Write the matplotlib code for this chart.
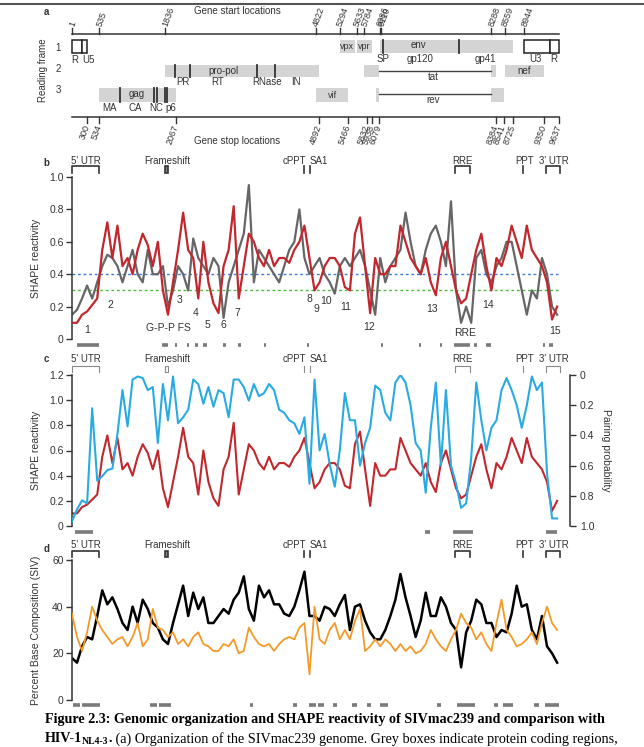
import matplotlib
matplotlib.use('Agg')
import matplotlib.pyplot as plt
from matplotlib.transforms import blended_transform_factory, Affine2D
from matplotlib.patches import Rectangle
from matplotlib.lines import Line2D

plt.rcParams['font.family'] = ['Liberation Sans', 'DejaVu Sans']

# ---------------- data ----------------
GENOME_LEN = 9637
positions = list(range(0, 9700, 100))  # sampling grid (nt)

shape_siv = [0.10, 0.10, 0.15, 0.17, 0.21, 0.25, 0.55, 0.72, 0.50, 0.70,
             0.45, 0.50, 0.40, 0.55, 0.65, 0.58, 0.45, 0.60, 0.30, 0.15,
             0.35, 0.55, 0.78, 0.55, 0.50, 0.25, 0.60, 0.35, 0.22, 0.16,
             0.45, 0.55, 0.82, 0.25, 0.45, 0.65, 0.60, 0.50, 0.45, 0.55,
             0.45, 0.50, 0.50, 0.47, 0.55, 0.60, 0.70, 0.50, 0.30, 0.35,
             0.45, 0.50, 0.50, 0.45, 0.32, 0.30, 0.65, 0.75, 0.45, 0.16,
             0.50, 0.40, 0.40, 0.45, 0.45, 0.70, 0.60, 0.50, 0.45, 0.40,
             0.50, 0.35, 0.27, 0.50, 0.60, 0.45, 0.30, 0.22, 0.25, 0.40,
             0.55, 0.65, 0.45, 0.30, 0.50, 0.45, 0.55, 0.70, 0.60, 0.50,
             0.70, 0.55, 0.50, 0.45, 0.35, 0.12, 0.20]

shape_hiv = [0.15, 0.18, 0.25, 0.33, 0.25, 0.35, 0.45, 0.52, 0.50, 0.45,
             0.35, 0.45, 0.55, 0.40, 0.35, 0.55, 0.40, 0.40, 0.45, 0.20,
             0.30, 0.45, 0.40, 0.30, 0.62, 0.50, 0.45, 0.40, 0.50, 0.45,
             0.13, 0.35, 0.45, 0.55, 0.65, 0.95, 0.35, 0.55, 0.50, 0.45,
             0.40, 0.35, 0.45, 0.55, 0.60, 0.80, 0.50, 0.40, 0.45, 0.50,
             0.40, 0.35, 0.28, 0.45, 0.50, 0.45, 0.50, 0.55, 0.45, 0.30,
             0.15, 0.50, 0.35, 0.45, 0.50, 0.55, 0.78, 0.60, 0.45, 0.40,
             0.55, 0.65, 0.70, 0.60, 0.45, 0.85, 0.30, 0.10, 0.20, 0.10,
             0.50, 0.55, 0.40, 0.35, 0.45, 0.50, 0.60, 0.60, 0.45, 0.30,
             0.15, 0.30, 0.25, 0.50, 0.40, 0.20, 0.15]

pairing_prob = [0.97, 0.89, 0.83, 0.85, 0.22, 0.70, 0.67, 0.63, 0.62, 0.39,
                0.10, 0.34, 0.03, 0.01, 0.02, 0.10, 0.08, 0.45, 0.06, 0.30,
                0.01, 0.32, 0.28, 0.23, 0.03, 0.06, 0.19, 0.08, 0.21, 0.10,
                0.12, 0.28, 0.03, 0.03, 0.08, 0.17, 0.06, 0.14, 0.12, 0.06,
                0.10, 0.23, 0.25, 0.30, 0.32, 0.39, 0.28, 0.72, 0.03, 0.50,
                0.39, 0.59, 0.74, 0.50, 0.12, 0.30, 0.30, 0.60, 0.45, 0.35,
                0.07, 0.10, 0.25, 0.30, 0.05, 0.00, 0.05, 0.20, 0.45, 0.50,
                0.78, 0.35, 0.05, 0.60, 0.10, 0.60, 0.72, 0.88, 0.85, 0.55,
                0.05, 0.30, 0.50, 0.35, 0.30, 0.10, 0.02, 0.10, 0.20, 0.35,
                0.20, 0.01, 0.10, 0.05, 0.65, 0.95, 0.95]

pct_a = [18, 16, 23, 27, 26, 36, 47, 41, 44, 39,
         33, 30, 40, 33, 43, 39, 33, 31, 26, 24,
         33, 41, 49, 36, 46, 39, 44, 33, 33, 36,
         39, 37, 43, 46, 53, 39, 34, 49, 44, 47,
         41, 41, 37, 36, 40, 47, 55, 36, 36, 34,
         40, 39, 36, 41, 45, 30, 40, 41, 34, 29,
         26, 26, 30, 36, 43, 54, 44, 36, 27, 34,
         46, 36, 36, 44, 40, 33, 30, 14, 29, 34,
         43, 41, 33, 33, 27, 30, 29, 37, 49, 40,
         41, 30, 26, 36, 23, 20, 16]

pct_other = [37, 27, 21, 29, 40, 34, 30, 27, 24, 26,
             27, 23, 27, 33, 23, 26, 39, 31, 30, 27,
             29, 24, 26, 23, 27, 29, 24, 23, 21, 21,
             24, 23, 26, 20, 21, 31, 27, 24, 23, 24,
             21, 24, 26, 27, 26, 31, 33, 11, 40, 26,
             24, 30, 33, 26, 30, 26, 34, 39, 21, 23,
             26, 23, 26, 24, 21, 24, 21, 23, 20, 21,
             24, 30, 26, 23, 21, 26, 30, 37, 33, 31,
             26, 29, 24, 21, 33, 43, 30, 27, 23, 24,
             26, 29, 24, 33, 40, 33, 30]

gene_starts = [1, 535, 1836, 4822, 5294, 5633, 5784, 6086, 6110, 8288, 8559, 8944]
gene_stops = [300, 534, 2067, 4892, 5466, 5832, 5938, 6079, 8384, 8541, 8725, 9350, 9637]

low_b = [(92, 541), (1775, 1906), (2040, 2070), (2270, 2320), (2430, 2490),
         (2585, 2665), (2980, 3050), (3290, 3340), (3800, 3840), (4645, 4700),
         (6110, 6160), (6870, 6910), (7280, 7320), (7565, 7875), (7960, 8010),
         (8200, 8300), (9315, 9360), (9445, 9525)]
low_c = [(60, 422), (6985, 7085), (7545, 7940), (9380, 9590)]
low_d = [(25, 160), (190, 555), (1545, 1675), (1730, 1950), (3520, 3590),
         (4380, 4460), (4700, 4830), (4875, 4990), (5160, 5250), (5535, 5635),
         (5830, 5910), (6095, 6260), (7230, 7295), (7615, 7975), (8350, 8435),
         (8535, 8720), (9140, 9245), (9360, 9637)]

region_labels = ['1', '2', 'G-P-P FS', '3', '4', '5', '6', '7', '8', '9', '10', '11',
                 '12', '13', 'RRE', '14', '15']
region_pos = [310, 752, 1900, 2137, 2453, 2690, 2990, 3280, 4690, 4840, 5020, 5420,
              5880, 7120, 7775, 8230, 9560]
region_val = [0.055, 0.21, 0.07, 0.24, 0.16, 0.085, 0.085, 0.16, 0.25, 0.185, 0.235, 0.2,
              0.075, 0.185, 0.037, 0.21, 0.05]

# ---------------- figure ----------------
W, H = 644, 747
fig = plt.figure(figsize=(W / 100, H / 100), dpi=100)
X0, X1 = 72, 559
DARK = '#333333'


def axes_px(top, bottom):
    return [X0 / W, 1 - bottom / H, (X1 - X0) / W, (bottom - top) / H]


ax_b = fig.add_axes(axes_px(177, 339))
ax_c = fig.add_axes(axes_px(375, 526))
ax_d = fig.add_axes(axes_px(560, 700))
for ax in (ax_b, ax_c, ax_d):
    ax.set_xlim(1, GENOME_LEN)
ax_b.set_ylim(0, 1.0)
ax_c.set_ylim(0, 1.2)
ax_d.set_ylim(0, 60)

pxT = Affine2D().scale(1 / W, -1 / H).translate(0, 1) + fig.transFigure
T = blended_transform_factory(ax_b.transData, pxT)


def hl(x0, x1, y, color=DARK, lw=1.0, **kw):
    ax_b.add_line(Line2D([x0, x1], [y, y], transform=T, clip_on=False, color=color, lw=lw, **kw))


def vl(x, y0, y1, color=DARK, lw=1.0, **kw):
    ax_b.add_line(Line2D([x, x], [y0, y1], transform=T, clip_on=False, color=color, lw=lw, **kw))


def txt(x, y, s, size=7, color=DARK, **kw):
    kw.setdefault('ha', 'center')
    kw.setdefault('va', 'center')
    ax_b.text(x, y, s, transform=T, fontsize=size, color=color, clip_on=False, **kw)


def box(x0, x1, y0, y1, fc='#d4d4d4', ec='none', lw=0):
    ax_b.add_patch(Rectangle((x0, y0), x1 - x0, y1 - y0, transform=T, fc=fc, ec=ec,
                             lw=lw, clip_on=False))


# ---------- panel a ----------
fig.add_artist(Line2D([0, 1], [1 - 4 / H, 1 - 4 / H], transform=fig.transFigure, color='#555', lw=1.5))
txt(3265, 11, 'Gene start locations', size=7)
txt(3265, 141, 'Gene stop locations', size=7)
hl(1, GENOME_LEN, 34, lw=1.1)
for s in gene_starts:
    vl(s, 34, 28, lw=1.0)
    txt(s, 26, str(s), size=6.5, rotation=70, ha='left', va='center', rotation_mode='anchor')
hl(1, GENOME_LEN, 117, lw=1.1)
for s in gene_stops:
    vl(s, 117, 123, lw=1.0)
    txt(s, 125, str(s), size=6.5, rotation=70, ha='right', va='center', rotation_mode='anchor')

txt(-574, 70, 'Reading frame', size=7, rotation=90)
for lab, yy in (('1', 48), ('2', 69), ('3', 90)):
    txt(-277, yy, lab, size=7)

F1, F2, F3 = (40, 53), (65, 77), (88, 102)
# frame 1
box(1, 190, *F1, fc='white', ec='#222', lw=1.1)
box(190, 300, *F1, fc='white', ec='#222', lw=1.1)
txt(60, 60, 'R', size=7)
txt(330, 60, 'U5', size=7)
box(5294, 5610, *F1)
box(5633, 5938, *F1)
txt(5450, 46.5, 'vpx', size=6.5)
txt(5790, 46.5, 'vpr', size=6.5)
box(6086, 8725, *F1)
vl(6150, F1[0], F1[1], lw=1.3)
vl(7650, F1[0], F1[1], lw=1.3)
txt(6850, 45.5, 'env', size=7)
txt(6150, 59, 'SP', size=7)
txt(6890, 59, 'gp120', size=7)
txt(8190, 59, 'gp41', size=7)
box(8944, 9450, *F1, fc='white', ec='#222', lw=1.1)
box(9450, 9637, *F1, fc='white', ec='#222', lw=1.1)
txt(9170, 59, 'U3', size=7)
txt(9540, 59, 'R', size=7)
# frame 2
box(1836, 4892, *F2)
for xx in (2040, 2340, 3660, 4020):
    vl(xx, F2[0], F2[1], lw=1.3)
txt(2990, 70.5, 'pro-pol', size=7)
for lab, xx in (('PR', 2200), ('RT', 2890), ('RNase', 3860), ('IN', 4430)):
    txt(xx, 82, lab, size=7)
box(5784, 6079, *F2)
box(8288, 8384, *F2)
hl(6079, 8288, 71, lw=1.0, color='#444')
txt(7140, 77, 'tat', size=7)
box(8559, 9350, *F2)
txt(8950, 70.5, 'nef', size=7)
# frame 3
box(535, 2067, *F3)
for xx in (950, 1620, 1690, 1850, 1880):
    vl(xx, F3[0], F3[1], lw=1.3)
txt(1290, 94, 'gag', size=7)
for lab, xx in (('MA', 750), ('CA', 1250), ('NC', 1660), ('p6', 1960)):
    txt(xx, 108, lab, size=7)
box(4822, 5466, *F3)
txt(5150, 95, 'vif', size=6.5)
box(6010, 6079, *F3)
box(8288, 8541, *F3)
hl(6079, 8288, 94, lw=1.0, color='#444')
txt(7140, 100, 'rev', size=7)
txt(-510, 12, 'a', size=7, weight='bold')


# ---------- annotation strip above b, c, d ----------
def annotations(ylab, ytop, ybot, color, lw, fs_filled=True):
    def bracket(a, b):
        ax_b.add_line(Line2D([a, a, b, b], [ybot, ytop, ytop, ybot], transform=T,
                             clip_on=False, color=color, lw=lw))
    bracket(1, 535)
    bracket(7580, 7875)
    bracket(9380, 9660)
    if fs_filled:
        box(1845, 1900, ytop, ybot, fc='#888', ec=color, lw=lw)
    else:
        box(1845, 1900, ytop, ybot, fc='none', ec=color, lw=lw)
    for xx in (4600, 4720, 8930):
        vl(xx, ytop, ybot, color=color, lw=lw)
    for lab, xx in (("5' UTR", 268), ('Frameshift', 1893), ('cPPT', 4400), ('SA1', 4890),
                    ('RRE', 7735), ('PPT', 8960), ("3' UTR", 9530)):
        txt(xx, ylab, lab, size=7)


annotations(161, 166, 173, DARK, 1.2)
annotations(359, 366, 372, '#8a8a8a', 0.8, fs_filled=False)
annotations(545, 551, 557, DARK, 1.2)
txt(-510, 163, 'b', size=7, weight='bold')
txt(-510, 359, 'c', size=7, weight='bold')
txt(-510, 549, 'd', size=7, weight='bold')


def lowbars(bars, y):
    for a, b in bars:
        hl(a, b, y, color='#7a7a7a', lw=2.6, solid_capstyle='butt')


lowbars(low_b, 345)
lowbars(low_c, 532)
lowbars(low_d, 705)


# ---------- axes styling ----------
def style(ax, ticks, labels):
    for sp in ('top', 'right', 'bottom'):
        ax.spines[sp].set_visible(False)
    ax.spines['left'].set_color(DARK)
    ax.spines['left'].set_linewidth(1.1)
    ax.set_xticks([])
    ax.set_yticks(ticks)
    ax.set_yticklabels(labels)
    ax.tick_params(axis='y', direction='out', length=4, width=1.0, colors=DARK, labelsize=7.5, pad=2)
    ax.patch.set_alpha(0)


style(ax_b, [0, 0.2, 0.4, 0.6, 0.8, 1.0], ['0', '0.2', '0.4', '0.6', '0.8', '1.0'])
style(ax_c, [0, 0.2, 0.4, 0.6, 0.8, 1.0, 1.2], ['0', '0.2', '0.4', '0.6', '0.8', '1.0', '1.2'])
style(ax_d, [0, 20, 40, 60], ['0', '20', '40', '60'])
ax_b.set_ylabel('SHAPE reactivity', fontsize=7.5, color=DARK)
ax_c.set_ylabel('SHAPE reactivity', fontsize=7.5, color=DARK)
ax_d.set_ylabel('Percent Base Composition (SIV)', fontsize=7.5, color=DARK)
for ax in (ax_b, ax_c, ax_d):
    ax.yaxis.set_label_coords(-0.063, 0.5)

xs = positions

# panel b
ax_b.axhline(0.4, color='#3b7dd8', ls=(0, (2, 2)), lw=1.0, zorder=1)
ax_b.axhline(0.3, color='#4cbb3c', ls=(0, (2, 2)), lw=1.0, zorder=1)
ax_b.plot(xs, shape_hiv, color='#666666', lw=1.6, zorder=2)
ax_b.plot(xs, shape_siv, color='#c1272d', lw=1.6, zorder=3)
for lab, xx, yy in zip(region_labels, region_pos, region_val):
    ax_b.text(xx, yy, lab, fontsize=7.5, color=DARK, ha='center', va='center')

# panel c
ax_c.plot(xs, shape_siv, color='#c1272d', lw=1.5, zorder=2)
ax_c2 = ax_c.twinx()
ax_c2.set_position(axes_px(375, 526))
ax_c2.set_xlim(1, GENOME_LEN)
ax_c2.set_ylim(1.0, 0)
ax_c2.plot(xs, pairing_prob, color='#29abe2', lw=1.5, zorder=3)
for sp in ('top', 'left', 'bottom'):
    ax_c2.spines[sp].set_visible(False)
ax_c2.spines['right'].set_position(('outward', 8))
ax_c2.spines['right'].set_color(DARK)
ax_c2.spines['right'].set_linewidth(1.1)
ax_c2.set_yticks([0, 0.2, 0.4, 0.6, 0.8, 1.0])
ax_c2.set_yticklabels(['0', '0.2', '0.4', '0.6', '0.8', '1.0'])
ax_c2.tick_params(axis='y', direction='out', length=4, width=1.0, colors=DARK, labelsize=7.5, pad=3)
ax_c2.set_xticks([])
ax_c2.set_ylabel('Pairing probability', fontsize=7.5, color=DARK, rotation=270, labelpad=12)
ax_c2.patch.set_alpha(0)

# panel d
ax_d.plot(xs, pct_a, color='black', lw=1.8, zorder=2)
ax_d.plot(xs, pct_other, color='#f39a2b', lw=1.3, zorder=3)

# ---------- caption ----------
SERIF = ['Liberation Serif', 'DejaVu Serif']
CAP = 10.2
fig.text(45 / W, 1 - 720 / H, 'Figure 2.3: Genomic organization and SHAPE reactivity of SIVmac239 and comparison with',
         fontsize=CAP, weight='bold', family=SERIF, va='center', ha='left')
renderer = fig.canvas.get_renderer()
y2 = 1 - 739 / H
t = fig.text(45 / W, y2, 'HIV-1', fontsize=CAP, weight='bold', family=SERIF, va='center', ha='left')
x = t.get_window_extent(renderer).x1
t = fig.text(x / W, y2 - 3 / H, 'NL4-3', fontsize=7, weight='bold', family=SERIF, va='center', ha='left')
x = t.get_window_extent(renderer).x1
t = fig.text(x / W, y2, '.', fontsize=CAP, weight='bold', family=SERIF, va='center', ha='left')
x = t.get_window_extent(renderer).x1
fig.text(x / W, y2, ' (a) Organization of the SIVmac239 genome. Grey boxes indicate protein coding regions,',
         fontsize=CAP, family=SERIF, va='center', ha='left')

fig.savefig('out.png', dpi=100)
